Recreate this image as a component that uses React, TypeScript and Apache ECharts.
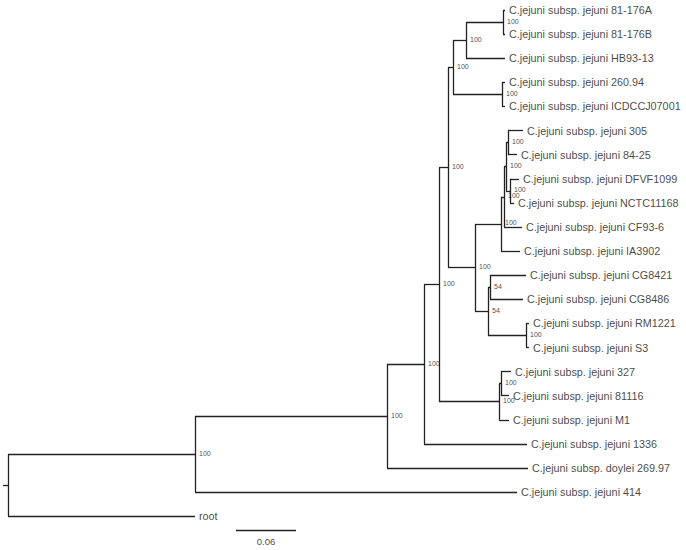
import { useEffect, useRef } from "react";
import * as echarts from "echarts";

// Leaf order, top to bottom
const tipNames = [
  "C.jejuni subsp. jejuni 81-176A",
  "C.jejuni subsp. jejuni 81-176B",
  "C.jejuni subsp. jejuni HB93-13",
  "C.jejuni subsp. jejuni 260.94",
  "C.jejuni subsp. jejuni ICDCCJ07001",
  "C.jejuni subsp. jejuni 305",
  "C.jejuni subsp. jejuni 84-25",
  "C.jejuni subsp. jejuni DFVF1099",
  "C.jejuni subsp. jejuni NCTC11168",
  "C.jejuni subsp. jejuni CF93-6",
  "C.jejuni subsp. jejuni IA3902",
  "C.jejuni subsp. jejuni CG8421",
  "C.jejuni subsp. jejuni CG8486",
  "C.jejuni subsp. jejuni RM1221",
  "C.jejuni subsp. jejuni S3",
  "C.jejuni subsp. jejuni 327",
  "C.jejuni subsp. jejuni 81116",
  "C.jejuni subsp. jejuni M1",
  "C.jejuni subsp. jejuni 1336",
  "C.jejuni subsp. doylei 269.97",
  "C.jejuni subsp. jejuni 414",
  "root",
];

// Tree edges: child, parent, branch length (substitutions/site)
const edgeChild = [
  "root", "n1",
  "C.jejuni subsp. jejuni 414", "n2",
  "C.jejuni subsp. doylei 269.97", "n3",
  "C.jejuni subsp. jejuni 1336", "n4",
  "n5", "n19",
  "n6", "n10",
  "n7", "n9",
  "n8", "C.jejuni subsp. jejuni HB93-13",
  "C.jejuni subsp. jejuni 81-176A", "C.jejuni subsp. jejuni 81-176B",
  "C.jejuni subsp. jejuni 260.94", "C.jejuni subsp. jejuni ICDCCJ07001",
  "n11", "n16",
  "n12", "C.jejuni subsp. jejuni IA3902",
  "n13", "C.jejuni subsp. jejuni CF93-6",
  "n14", "n15",
  "C.jejuni subsp. jejuni 305", "C.jejuni subsp. jejuni 84-25",
  "C.jejuni subsp. jejuni DFVF1099", "C.jejuni subsp. jejuni NCTC11168",
  "n17", "n18",
  "C.jejuni subsp. jejuni CG8421", "C.jejuni subsp. jejuni CG8486",
  "C.jejuni subsp. jejuni RM1221", "C.jejuni subsp. jejuni S3",
  "n20", "C.jejuni subsp. jejuni M1",
  "C.jejuni subsp. jejuni 327", "C.jejuni subsp. jejuni 81116",
];
const edgeParent = [
  "n0", "n0",
  "n1", "n1",
  "n2", "n2",
  "n3", "n3",
  "n4", "n4",
  "n5", "n5",
  "n6", "n6",
  "n7", "n7",
  "n8", "n8",
  "n9", "n9",
  "n10", "n10",
  "n11", "n11",
  "n12", "n12",
  "n13", "n13",
  "n14", "n14",
  "n15", "n15",
  "n16", "n16",
  "n17", "n17",
  "n18", "n18",
  "n19", "n19",
  "n20", "n20",
];
const branchLengths = [
  0.187, 0.187,
  0.322, 0.192,
  0.141, 0.037,
  0.103, 0.015,
  0.009, 0.060,
  0.005, 0.027,
  0.013, 0.049,
  0.037, 0.039,
  0.002, 0.002,
  0.003, 0.003,
  0.026, 0.013,
  0.003, 0.019,
  0.002, 0.018,
  0.002, 0.004,
  0.015, 0.009,
  0.009, 0.004,
  0.002, 0.038,
  0.036, 0.033,
  0.003, 0.003,
  0.002, 0.010,
  0.010, 0.008,
];

// Bootstrap support values
const supportNodes = [
  "n1", "n2", "n3", "n4", "n5", "n6", "n7", "n8", "n9", "n10",
  "n11", "n12", "n13", "n14", "n15", "n16", "n17", "n18", "n19", "n20",
];
const supportValues = [
  100, 100, 100, 100, 100, 100, 100, 100, 100, 100,
  100, 100, 100, 100, 100, 54, 54, 100, 100, 100,
];

const scaleBarLength = 0.06;
const scaleBarLabel = "0.06";

export default function App() {
  const ref = useRef<HTMLDivElement>(null);

  useEffect(() => {
    if (!ref.current) return;
    const chart = echarts.init(ref.current, undefined, { renderer: "svg" });

    const children: Record<string, string[]> = {};
    const lenOf: Record<string, number> = {};
    edgeChild.forEach((c, i) => {
      const p = edgeParent[i];
      (children[p] = children[p] || []).push(c);
      lenOf[c] = branchLengths[i];
    });
    const X: Record<string, number> = {};
    const Y: Record<string, number> = {};
    const tipIndex: Record<string, number> = {};
    tipNames.forEach((t, i) => (tipIndex[t] = i));

    const walk = (id: string, x: number) => {
      X[id] = x;
      const ch = children[id];
      if (!ch) {
        Y[id] = tipIndex[id];
        return;
      }
      ch.forEach((c) => walk(c, x + lenOf[c]));
      const ys = ch.map((c) => Y[c]);
      Y[id] = (Math.min(...ys) + Math.max(...ys)) / 2;
    };
    walk("n0", 0);

    const segs: any[] = [];
    Object.keys(children).forEach((p) => {
      const ch = children[p];
      const ys = ch.map((c) => Y[c]);
      segs.push({ coords: [[X[p], Math.min(...ys)], [X[p], Math.max(...ys)]] });
      ch.forEach((c) => {
        segs.push({ coords: [[X[p], Y[c]], [X[c], Y[c]]] });
      });
    });
    // root stub
    segs.push({ coords: [[-0.005, Y["n0"]], [0, Y["n0"]]] });

    const barX0 = 0.228;
    const barY = 21.58;
    const scaleSeg = [{ coords: [[barX0, barY], [barX0 + scaleBarLength, barY]] }];

    const tipData = tipNames.map((t) => [X[t], Y[t], t]);
    const supData = supportNodes.map((n, i) => [X[n], Y[n], String(supportValues[i])]);

    const font = "'Liberation Sans', Arial, Helvetica, sans-serif";
    const ink = "#141414";

    chart.setOption({
      animation: false,
      backgroundColor: "#ffffff",
      color: [ink],
      grid: { left: 0, top: 10, width: 686, height: (508 / 21) * 22.4 },
      xAxis: { type: "value", min: -0.008, max: 0.678, show: false },
      yAxis: { type: "value", min: 0, max: 22.4, inverse: true, show: false },
      series: [
        {
          type: "lines",
          coordinateSystem: "cartesian2d",
          silent: true,
          clip: false,
          lineStyle: { color: "#222", width: 1.3, opacity: 1 },
          data: segs,
        },
        {
          type: "lines",
          coordinateSystem: "cartesian2d",
          silent: true,
          clip: false,
          lineStyle: { color: "#222", width: 1.3, opacity: 1 },
          data: scaleSeg,
        },
        {
          type: "scatter",
          symbolSize: 0,
          silent: true,
          clip: false,
          itemStyle: { color: ink },
          data: tipData,
          label: {
            show: true,
            position: "right",
            distance: 4,
            formatter: (p: any) => p.value[2],
            color: ink,
            fontSize: 10.8,
            fontFamily: font,
          },
        },
        {
          type: "scatter",
          symbolSize: 0,
          silent: true,
          clip: false,
          itemStyle: { color: ink },
          data: supData,
          label: {
            show: true,
            position: "right",
            distance: 4,
            offset: [0, -1],
            formatter: (p: any) => p.value[2],
            color: ink,
            fontSize: 7,
            fontFamily: font,
          },
        },
        {
          type: "scatter",
          symbolSize: 0,
          silent: true,
          clip: false,
          itemStyle: { color: ink },
          data: [[barX0 + scaleBarLength / 2, barY, scaleBarLabel]],
          label: {
            show: true,
            position: "bottom",
            distance: 6,
            formatter: (p: any) => p.value[2],
            color: ink,
            fontSize: 9.6,
            fontFamily: font,
          },
        },
      ],
    });

    return () => chart.dispose();
  }, []);

  return (
    <div
      ref={ref}
      style={{ position: "fixed", left: 0, top: 0, width: 686, height: 550, background: "#fff" }}
    />
  );
}
